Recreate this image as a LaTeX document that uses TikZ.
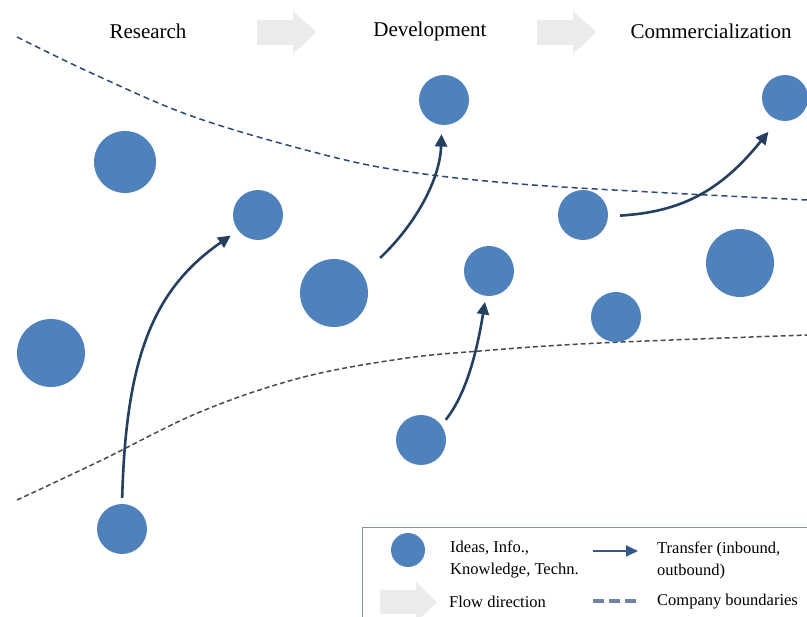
\documentclass[tikz,border=0pt]{standalone}
\usepackage{fontspec}
\setmainfont{Liberation Serif}
\usetikzlibrary{arrows.meta}
\definecolor{dotblue}{HTML}{4F81BD}
\definecolor{arrblue}{HTML}{243F60}
\definecolor{legarr}{HTML}{34578A}
\definecolor{topline}{HTML}{2C4A72}
\definecolor{botline}{HTML}{4A4A4A}
\definecolor{flowgray}{HTML}{EBEBEB}
\definecolor{legframe}{HTML}{7F95B5}
\definecolor{legdash}{HTML}{6F84A3}
\tikzset{
  dot/.style={circle,fill=dotblue,draw=none,inner sep=0pt,minimum size=#1},
  transfer/.style={draw=arrblue,line width=2.6pt,-{Triangle[length=12.5pt,width=12pt]}},
  stagetext/.style={font=\fontsize{21}{24}\selectfont,inner sep=0pt},
  legtext/.style={font=\fontsize{16.5}{22}\selectfont,inner sep=0pt,anchor=west,align=left}
}
\begin{document}
\begin{tikzpicture}[x=1pt,y=-1pt]
\useasboundingbox (0,0) rectangle (807,617);
\clip (0,0) rectangle (807,617);
% stage labels
\node[stagetext] (research) at (148,31) {Research};
\node[stagetext] (development) at (430,31) {Development};
\node[stagetext] (commerc) at (711,31) {Commercialization};
% flow arrows
\fill[flowgray] (257,20) -- (293,20) -- (293,11) -- (316,32) -- (293,54) -- (293,45) -- (257,45) -- cycle;
\fill[flowgray] (537,20) -- (573,20) -- (573,11) -- (596,32) -- (573,54) -- (573,45) -- (537,45) -- cycle;
% company boundaries
\draw[topline,line width=1.5pt,dash pattern=on 6pt off 4pt] plot[smooth,tension=0.6] coordinates {(17,37) (100,77) (200,119) (333,157) (417,173) (520,184) (650,192) (807,200)};
\draw[botline,line width=1.5pt,dash pattern=on 5pt off 3pt] plot[smooth,tension=0.6] coordinates {(17,500) (100,461) (200,412) (300,378) (400,359) (480,351) (600,343) (807,335)};
% ideas
\node[dot=62pt] (c1) at (125,162) {};
\node[dot=50pt] (c2) at (258,215) {};
\node[dot=68pt] (c3) at (51,353) {};
\node[dot=68pt] (c4) at (334,293) {};
\node[dot=50pt] (c5) at (444,100) {};
\node[dot=50pt] (c6) at (489,271) {};
\node[dot=50pt] (c7) at (583,215) {};
\node[dot=50pt] (c8) at (616,317) {};
\node[dot=68pt] (c9) at (740,263) {};
\node[dot=46pt] (c10) at (785,98) {};
\node[dot=50pt] (c11) at (122,529) {};
\node[dot=50pt] (c12) at (421,440) {};
% transfers
\draw[transfer,shorten <=6pt,shorten >=9pt] (c11.90) .. controls (126,360) and (152,290) .. (c2.218);
\draw[transfer,shorten <=24pt,shorten >=9pt] (c4.33) .. controls (415,225) and (440,180) .. (c5.265);
\draw[transfer,shorten <=7pt,shorten >=6pt] (c12.36) .. controls (468,392) and (478,345) .. (c6.263);
\draw[transfer,shorten <=12pt,shorten >=15pt] (c7.-3) .. controls (680,212) and (720,192) .. (c10.252);
% legend
\draw[legframe,line width=1pt] (362,528) rectangle (830,640);
\node[dot=34pt] (legdot) at (408,550) {};
\node[legtext] (legideas) at (450,559) {Ideas, Info.,\\Knowledge, Techn.};
\coordinate (lta) at (593,551);
\coordinate (ltb) at (638,551);
\draw[draw=legarr,line width=1.8pt,-{Triangle[length=12pt,width=11pt]}] (lta) -- (ltb);
\node[legtext] (legtransfer) at (657,560) {Transfer (inbound,\\outbound)};
\fill[flowgray] (380,590) -- (416,590) -- (416,582) -- (437,602) -- (416,622) -- (416,614) -- (380,614) -- cycle;
\node[legtext] (legflow) at (449,602) {Flow direction};
\coordinate (lda) at (593,601);
\coordinate (ldb) at (638,601);
\draw[legdash,line width=3.2pt,dash pattern=on 11pt off 5pt] (lda) -- (ldb);
\node[legtext] (legbound) at (657,602) {Company boundaries};
\end{tikzpicture}
\end{document}
